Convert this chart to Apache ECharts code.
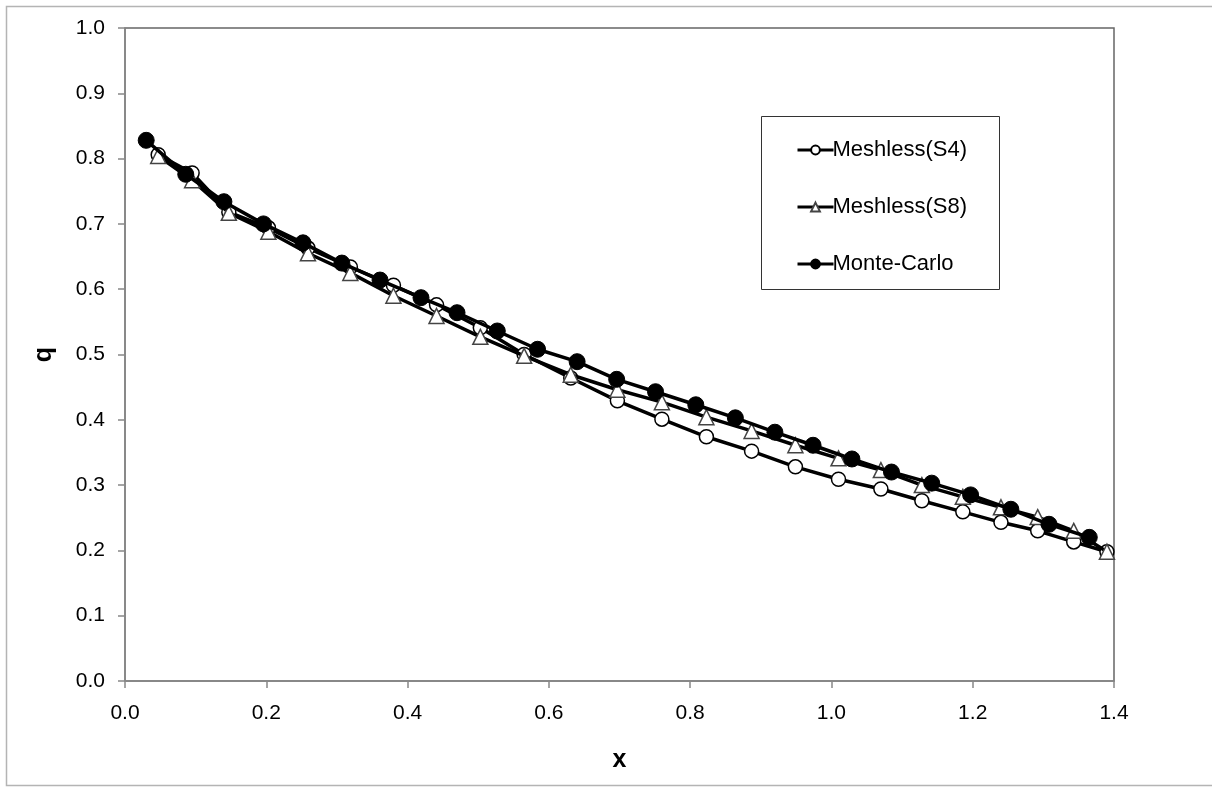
<!DOCTYPE html>
<html>
<head>
<meta charset="utf-8">
<script src="https://cdn.jsdelivr.net/npm/echarts@6/dist/echarts.min.js"></script>
<style>
html,body{margin:0;padding:0;background:#fff;}
#chart{width:1212px;height:790px;}
</style>
</head>
<body>
<div id="chart"></div>
<script>
// Meshless grid (S4 and S8 share x positions)
const meshX = [0.047,0.095,0.147,0.203,0.259,0.319,0.380,0.441,0.503,0.565,0.631,0.697,0.760,0.823,0.887,0.949,1.010,1.070,1.128,1.186,1.240,1.292,1.343,1.390];
const s4Y = [0.806,0.778,0.718,0.694,0.663,0.634,0.606,0.576,0.541,0.500,0.464,0.429,0.401,0.374,0.352,0.328,0.309,0.294,0.276,0.259,0.243,0.230,0.213,0.198];
const s8Y = [0.804,0.767,0.717,0.688,0.655,0.625,0.590,0.559,0.527,0.498,0.469,0.446,0.427,0.404,0.383,0.361,0.341,0.323,0.300,0.282,0.266,0.251,0.230,0.198];
const mcX = [0.030,0.086,0.140,0.196,0.252,0.307,0.361,0.419,0.470,0.527,0.584,0.640,0.696,0.751,0.808,0.864,0.920,0.974,1.029,1.085,1.142,1.197,1.254,1.308,1.365];
const mcY = [0.828,0.776,0.734,0.700,0.671,0.640,0.614,0.587,0.564,0.536,0.508,0.489,0.462,0.443,0.423,0.403,0.381,0.361,0.340,0.320,0.303,0.285,0.263,0.240,0.220];
const seriesNames = ['Meshless(S4)','Meshless(S8)','Monte-Carlo'];

const zip = (xs, ys) => xs.map((x, i) => [x, ys[i]]);
const FONT = 'Liberation Sans, Arial, sans-serif';

const chart = echarts.init(document.getElementById('chart'), null, {renderer:'canvas'});
chart.setOption({
  animation: false,
  backgroundColor: '#fff',
  textStyle: {fontFamily: FONT, color: '#000'},
  grid: {left:125, top:28, right:98, bottom:109, show:true, borderColor:'#666', borderWidth:1.5, backgroundColor:'transparent'},
  graphic: [
    {type:'rect', shape:{x:6.5,y:6.5,width:1215,height:779}, style:{fill:'none', stroke:'#b4b4b4', lineWidth:1.5}, z:-1, silent:true},
    {type:'rect', shape:{x:761.5,y:116.5,width:238,height:173}, style:{fill:'#fff', stroke:'#333', lineWidth:1}, z:5, silent:true}
  ],
  legend: {
    orient:'vertical', left:791, top:134, itemGap:35, itemWidth:36, itemHeight:11,
    lineStyle:{width:3},
    textStyle:{fontSize:22, fontFamily:FONT, color:'#000', padding:[0,0,0,-6]},
    data: seriesNames, z:10
  },
  xAxis: {
    type:'value', min:0, max:1.4, interval:0.2,
    name:'x', nameLocation:'middle', nameGap:67,
    nameTextStyle:{fontSize:25, fontWeight:'bold', color:'#000', fontFamily:FONT},
    axisLine:{show:true, lineStyle:{color:'#888', width:1.5}},
    axisTick:{show:true, inside:false, length:7, lineStyle:{color:'#888', width:1.5}},
    axisLabel:{fontSize:21, color:'#000', margin:22, formatter:v=>v.toFixed(1)},
    splitLine:{show:false}
  },
  yAxis: {
    type:'value', min:0, max:1, interval:0.1,
    name:'q', nameLocation:'middle', nameGap:68, nameRotate:90,
    nameTextStyle:{fontSize:25, fontWeight:'bold', color:'#000', fontFamily:FONT},
    axisLine:{show:true, lineStyle:{color:'#888', width:1.5}},
    axisTick:{show:true, inside:false, length:7, lineStyle:{color:'#888', width:1.5}},
    axisLabel:{fontSize:21, color:'#000', margin:20, formatter:v=>v.toFixed(1)},
    splitLine:{show:false}
  },
  series: [
    {name:seriesNames[0], type:'line', data:zip(meshX, s4Y), symbol:'circle', symbolSize:14,
     lineStyle:{color:'#000', width:3.5}, itemStyle:{color:'#fff', borderColor:'#000', borderWidth:1.5}, z:2},
    {name:seriesNames[1], type:'line', data:zip(meshX, s8Y), symbol:'triangle', symbolSize:15,
     lineStyle:{color:'#000', width:3.5}, itemStyle:{color:'#fff', borderColor:'#444', borderWidth:1.5}, z:3},
    {name:seriesNames[2], type:'line', data:zip(mcX, mcY), symbol:'circle', symbolSize:16,
     lineStyle:{color:'#000', width:3.5}, itemStyle:{color:'#000', borderColor:'#000', borderWidth:1}, z:4}
  ]
});
</script>
</body>
</html>
